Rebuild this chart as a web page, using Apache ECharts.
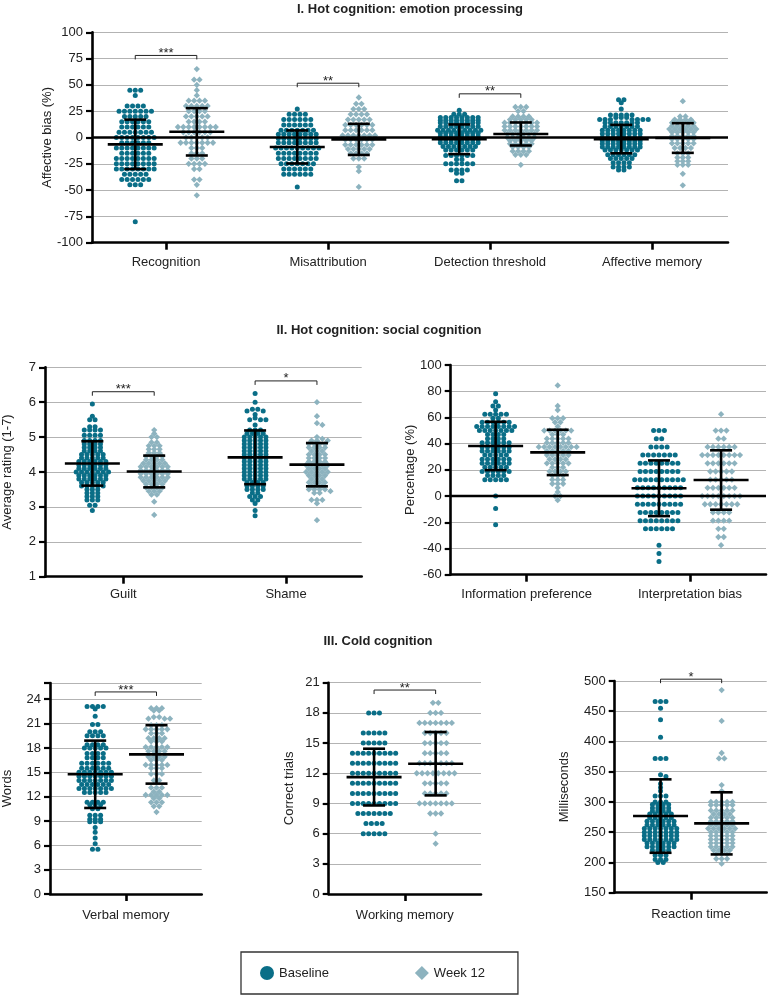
<!DOCTYPE html>
<html><head><meta charset="utf-8">
<script src="https://cdn.jsdelivr.net/npm/echarts@6/dist/echarts.min.js"></script>
<style>html,body{margin:0;padding:0;background:#fff}#c{width:768px;height:995px}</style>
</head><body><div id="c"></div>
<script>
// ---------- categories ----------
const emotionTasks = ['Recognition','Misattribution','Detection threshold','Affective memory'];
const ratingTasks = ['Guilt','Shame'];
const percentTasks = ['Information preference','Interpretation bias'];
const verbalTask = ['Verbal memory'];
const workingTask = ['Working memory'];
const reactionTask = ['Reaction time'];

// ---------- individual values ----------
const recognitionBaseline = [45,45,45,40,30,30,30,30,25,25,25,25,25,25,25,20,20,20,20,20,15,15,15,15,15,15,10,10,10,10,10,10,5,5,5,5,5,5,5,0,0,0,0,0,0,0,0,-5,-5,-5,-5,-5,-5,-10,-10,-10,-10,-10,-10,-10,-10,-15,-15,-15,-15,-15,-15,-20,-20,-20,-20,-20,-20,-20,-20,-25,-25,-25,-25,-25,-25,-25,-25,-30,-30,-30,-30,-30,-30,-30,-30,-35,-35,-35,-35,-35,-40,-40,-40,-40,-40,-40,-45,-45,-45,-80];
const recognitionWeek12 = [65,55,55,50,45,40,35,35,35,35,30,30,30,30,30,25,25,25,25,20,20,20,20,20,15,15,15,15,10,10,10,10,10,10,10,10,5,5,5,5,5,5,0,0,0,0,0,-5,-5,-5,-5,-5,-5,-5,-10,-10,-10,-15,-15,-15,-20,-20,-20,-25,-25,-25,-25,-30,-30,-40,-40,-45,-55];
const misattributionBaseline = [27,22,22,22,22,17,17,17,17,17,17,12,12,12,12,12,12,7,7,7,7,7,7,7,3,3,3,3,3,3,3,3,-1,-1,-1,-1,-1,-1,-1,-1,-5,-5,-5,-5,-5,-5,-5,-5,-10,-10,-10,-10,-10,-10,-10,-10,-10,-15,-15,-15,-15,-15,-15,-15,-15,-20,-20,-20,-20,-20,-20,-20,-20,-25,-25,-25,-25,-25,-25,-25,-30,-30,-30,-30,-30,-30,-35,-35,-35,-35,-35,-35,-47];
const misattributionWeek12 = [38,32,32,27,27,27,22,22,22,22,17,17,17,17,17,12,12,12,12,12,12,7,7,7,7,7,7,2,2,2,2,2,2,2,-2,-2,-2,-2,-2,-2,-7,-7,-7,-7,-7,-7,-11,-11,-11,-11,-11,-15,-15,-15,-15,-20,-20,-20,-28,-32,-47];
const detectionBaseline = [26,22,22,22,19,19,19,19,19,19,19,19,16.5,16.5,16.5,16.5,16.5,16.5,16.5,16.5,14,14,14,14,14,14,14,14,10.5,10.5,10.5,10.5,10.5,10.5,10.5,10.5,7,7,7,7,7,7,7,7,7,4,4,4,4,4,4,4,4,1,1,1,1,1,1,1,1,-2,-2,-2,-2,-2,-2,-2,-2,-5,-5,-5,-5,-5,-5,-5,-5,-8.5,-8.5,-8.5,-8.5,-8.5,-8.5,-8.5,-12,-12,-12,-12,-12,-12,-17,-17,-17,-17,-17,-17,-21,-21,-25,-25,-25,-25,-25,-25,-31,-31,-31,-31,-34,-34,-41,-41];
const detectionWeek12 = [29,29,29,25,25,20,20,20,20,17,17,17,17,17,14,14,14,14,14,14,14,10.5,10.5,10.5,10.5,10.5,10.5,10.5,7,7,7,7,7,7,7,3.5,3.5,3.5,3.5,3.5,3.5,0,0,0,0,0,0,-3,-3,-3,-3,-3,-6,-6,-6,-6,-6,-9,-9,-9,-9,-13,-13,-13,-13,-16.5,-16.5,-16.5,-26];
const affectiveMemoryBaseline = [36,36,33,27,21.5,21.5,21.5,21.5,21.5,19,19,19,17,17,17,17,17,17,17,14,14,14,14,14,14,14,10.5,10.5,10.5,10.5,10.5,10.5,10.5,7,7,7,7,7,7,7,7,3.5,3.5,3.5,3.5,3.5,3.5,3.5,3.5,0,0,0,0,0,0,0,0,-3,-3,-3,-3,-3,-3,-3,-3,-6,-6,-6,-6,-6,-6,-6,-6,-9,-9,-9,-9,-9,-9,-9,-9,-12,-12,-12,-12,-12,-12,-12,-16.5,-16.5,-16.5,-16.5,-16.5,-16.5,-20,-20,-20,-20,-20,-24,-24,-24,-24,-28,-28,-28,-28,-31,-31];
const affectiveMemoryWeek12 = [34.5,20,20,17,17,17,17,14,14,14,14,14,11,11,11,11,11,8,8,8,8,8,8,5,5,5,5,5,1.5,1.5,1.5,1.5,1.5,-1.5,-1.5,-1.5,-1.5,-1.5,-5.5,-5.5,-5.5,-5.5,-5.5,-10,-10,-10,-10,-15,-15,-15,-19,-19,-19,-22.5,-22.5,-22.5,-26,-26,-26,-34.5,-45.5];

const guiltBaseline = [5.95,5.6,5.5,5.5,5.3,5.3,5.2,5.2,5.2,5.2,5.05,5.05,5.05,5.05,4.9,4.9,4.9,4.9,4.8,4.8,4.8,4.8,4.7,4.7,4.7,4.7,4.6,4.6,4.6,4.6,4.5,4.5,4.5,4.5,4.5,4.4,4.4,4.4,4.4,4.4,4.3,4.3,4.3,4.3,4.3,4.3,4.2,4.2,4.2,4.2,4.2,4.2,4.1,4.1,4.1,4.1,4.1,4.1,4.0,4.0,4.0,4.0,4.0,4.0,4.0,3.9,3.9,3.9,3.9,3.9,3.9,3.8,3.8,3.8,3.8,3.8,3.8,3.7,3.7,3.7,3.7,3.7,3.6,3.6,3.6,3.6,3.6,3.5,3.5,3.5,3.4,3.4,3.4,3.3,3.3,3.3,3.2,3.2,3.2,3.05,3.05,2.9];
const guiltWeek12 = [5.2,5.1,5.0,5.0,4.85,4.85,4.75,4.75,4.75,4.65,4.65,4.65,4.55,4.55,4.55,4.45,4.45,4.45,4.45,4.35,4.35,4.35,4.35,4.25,4.25,4.25,4.25,4.25,4.15,4.15,4.15,4.15,4.15,4.15,4.05,4.05,4.05,4.05,4.05,4.05,3.95,3.95,3.95,3.95,3.95,3.95,3.85,3.85,3.85,3.85,3.85,3.85,3.75,3.75,3.75,3.75,3.75,3.65,3.65,3.65,3.65,3.55,3.55,3.55,3.55,3.45,3.45,3.45,3.35,3.35,3.15,2.77];
const shameBaseline = [6.25,6.0,5.8,5.8,5.75,5.75,5.65,5.55,5.5,5.5,5.5,5.35,5.2,5.2,5.2,5.1,5.1,5.1,5.1,5.0,5.0,5.0,5.0,5.0,4.9,4.9,4.9,4.9,4.9,4.8,4.8,4.8,4.8,4.8,4.7,4.7,4.7,4.7,4.7,4.6,4.6,4.6,4.6,4.6,4.5,4.5,4.5,4.5,4.5,4.4,4.4,4.4,4.4,4.4,4.3,4.3,4.3,4.3,4.3,4.2,4.2,4.2,4.2,4.2,4.1,4.1,4.1,4.1,4.1,4.0,4.0,4.0,4.0,4.0,3.9,3.9,3.9,3.9,3.9,3.8,3.8,3.8,3.8,3.8,3.7,3.7,3.7,3.7,3.6,3.6,3.6,3.6,3.5,3.5,3.5,3.5,3.4,3.4,3.3,3.3,3.3,3.2,3.2,3.1,2.9,2.75];
const shameWeek12 = [6.0,5.6,5.4,5.35,5.0,4.95,4.9,4.9,4.9,4.8,4.8,4.8,4.8,4.7,4.7,4.7,4.7,4.6,4.6,4.6,4.5,4.5,4.5,4.5,4.4,4.4,4.4,4.4,4.3,4.3,4.3,4.3,4.2,4.2,4.2,4.2,4.2,4.1,4.1,4.1,4.1,4.0,4.0,4.0,4.0,4.0,3.9,3.9,3.9,3.9,3.8,3.8,3.8,3.7,3.7,3.7,3.7,3.6,3.6,3.6,3.5,3.5,3.5,3.5,3.45,3.4,3.4,3.2,3.2,3.2,3.1,2.62];

const infoPreferenceBaseline = [78.1,71.9,68.8,68.8,65.6,62.5,62.5,62.5,62.5,62.5,59.4,59.4,56.3,56.3,56.3,56.3,56.3,56.3,53.1,53.1,53.1,53.1,53.1,53.1,53.1,53.1,50,50,50,50,50,50,50,46.9,46.9,46.9,46.9,43.8,43.8,43.8,43.8,40.6,40.6,40.6,40.6,40.6,40.6,37.5,37.5,37.5,37.5,37.5,37.5,34.4,34.4,34.4,34.4,34.4,34.4,31.3,31.3,31.3,31.3,31.3,28.1,28.1,28.1,28.1,28.1,28.1,25,25,25,25,25,25,21.9,21.9,21.9,21.9,21.9,18.8,18.8,18.8,18.8,18.8,18.8,15.6,15.6,15.6,15.6,12.5,12.5,12.5,12.5,12.5,0,-9.4,-21.9];
const infoPreferenceWeek12 = [84.4,68.8,65.6,59.4,59.4,59.4,56.3,56.3,53.1,50,50,50,50,50,50,46.9,46.9,46.9,43.8,43.8,43.8,43.8,43.8,40.6,40.6,40.6,40.6,40.6,37.5,37.5,37.5,37.5,37.5,37.5,37.5,37.5,34.4,34.4,34.4,34.4,34.4,31.3,31.3,31.3,31.3,31.3,28.1,28.1,28.1,28.1,25,25,25,25,25,21.9,21.9,21.9,18.8,18.8,18.8,18.8,15.6,15.6,15.6,12.5,12.5,12.5,9.4,9.4,9.4,6.3,3.1,0,0,-3.1];
const interpretationBaseline = [50,50,50,43.75,43.75,37.5,37.5,37.5,37.5,31.25,31.25,31.25,31.25,31.25,31.25,31.25,25,25,25,25,25,25,25,25,18.75,18.75,18.75,18.75,18.75,18.75,18.75,18.75,12.5,12.5,12.5,12.5,12.5,12.5,12.5,12.5,12.5,12.5,6.25,6.25,6.25,6.25,6.25,6.25,6.25,6.25,6.25,0,0,0,0,0,0,0,0,0,-6.25,-6.25,-6.25,-6.25,-6.25,-6.25,-6.25,-6.25,-6.25,-12.5,-12.5,-12.5,-12.5,-12.5,-12.5,-12.5,-12.5,-18.75,-18.75,-18.75,-18.75,-18.75,-18.75,-18.75,-18.75,-25,-25,-25,-25,-25,-25,-37.5,-43.75,-50];
const interpretationWeek12 = [62.5,50,50,50,43.75,43.75,37.5,37.5,37.5,37.5,37.5,37.5,31.25,31.25,31.25,31.25,31.25,31.25,31.25,31.25,25,25,25,25,25,25,18.75,18.75,18.75,18.75,18.75,12.5,12.5,12.5,12.5,12.5,6.25,6.25,6.25,6.25,6.25,6.25,0,0,0,0,0,0,0,0,-6.25,-6.25,-6.25,-6.25,-6.25,-6.25,-6.25,-12.5,-12.5,-12.5,-12.5,-18.75,-18.75,-18.75,-18.75,-25,-25,-31.25,-31.25,-37.5];

const verbalBaseline = [23.1,23.1,23.1,23.1,22.8,21.9,20.9,20.9,20,20,20,19.5,19.5,19.5,19.5,18.4,18.4,18.4,18.4,18,18,18,18,18,17.3,17.3,17.3,17.3,16.8,16.8,16.8,16.8,16.1,16.1,16.1,16.1,16.1,16.1,15.5,15.5,15.5,15.5,15.5,15.5,15,15,15,15,15,15,15,14.5,14.5,14.5,14.5,14.5,14.5,14.5,14,14,14,14,14,14,14,13.5,13.5,13.5,13.5,13.5,13.5,13,13,13,13,13,13,13,12.5,12.5,12.5,12.5,12.5,11.3,11.3,11.3,11.3,11,11,11,10.5,10.5,9.7,9.7,9.7,9.2,9.2,9.2,8.9,8.9,8.9,8.2,7.6,6.9,6.2,5.5,5.5];
const verbalWeek12 = [22.9,22.9,22.9,22.6,22.6,21.8,21.8,21.6,21.6,21.6,20.8,20.8,20.8,20.3,20.3,20.3,20.3,20.3,19.8,19.8,19.8,19.2,19.2,19.2,19.2,18.8,18.8,18.8,18.1,18.1,18.1,18.1,18.1,17.6,17.6,17.6,17.6,16.9,16.9,16.9,16.9,16.5,16.5,16.5,15.9,15.9,15.9,15.9,15.9,15.5,15.5,15.5,14.8,14.8,14.8,14,14,13.1,13.1,13.1,12.6,12.6,12.2,12.2,12.2,12.2,12.2,11.8,11.8,11.3,11.3,11.3,10.8,10.8,10.1];
const workingBaseline = [18,18,18,16,16,16,16,16,15,15,15,15,15,14,14,14,14,14,14,14,14,14,13,13,13,13,13,13,13,13,13,12,12,12,12,12,12,12,12,12,11,11,11,11,11,11,11,11,11,10,10,10,10,10,10,10,10,10,9,9,9,9,9,9,9,9,9,8,8,8,8,8,8,8,7,7,7,7,6,6,6,6,6];
const workingWeek12 = [19,19,18,18,18,17,17,17,17,17,17,17,16,16,16,16,16,15,15,15,15,15,14,14,14,14,14,13,13,13,13,13,13,13,12,12,12,12,12,12,12,12,11,11,11,11,11,10,10,10,10,10,9,9,9,9,9,9,9,8,8,8,6,5];
const reactionBaseline = [466,466,466,455,436,407,372,372,372,345,342,330,324,318,310,310,310,300,300,300,296,296,296,296,290,290,290,290,285,285,285,285,280,280,280,280,280,274,274,274,274,274,268,268,268,268,268,268,262,262,262,262,262,262,256,256,256,256,256,256,256,250,250,250,250,250,250,250,244,244,244,244,244,244,244,238,238,238,238,238,238,238,232,232,232,232,232,232,226,226,226,226,226,226,220,220,220,220,212,212,212,205,205,205,200,200];
const reactionWeek12 = [485,434,381,372,372,328,318,300,300,300,300,300,295,295,295,295,295,286,286,286,286,286,280,280,280,280,274,274,274,274,274,268,268,268,268,268,262,262,262,262,262,256,256,256,256,256,256,250,250,250,250,250,244,244,244,244,244,238,238,238,238,238,232,232,232,232,232,226,226,226,226,226,220,220,220,220,214,214,214,206,206,206,198];

// ---------- group means and SDs ----------
const emotionBaselineMean = [-6.5, -9.0, -1.7, -1.5];
const emotionBaselineSD   = [23.5, 15.7, 14.1, 13.5];
const emotionWeek12Mean   = [5.4, -1.8, 3.35, -0.5];
const emotionWeek12SD     = [22.5, 14.8, 10.95, 14.1];
const ratingBaselineMean = [4.245, 4.42];
const ratingBaselineSD   = [0.635, 0.77];
const ratingWeek12Mean   = [4.015, 4.21];
const ratingWeek12SD     = [0.455, 0.62];
const percentBaselineMean = [38.25, 5.95];
const percentBaselineSD   = [18.45, 21.25];
const percentWeek12Mean   = [33.3, 12.25];
const percentWeek12SD     = [17.3, 22.65];
const verbalMean = [14.75, 17.2], verbalSD = [4.15, 3.6];
const workingMean = [11.62, 12.95], workingSD = [2.82, 3.15];
const reactionMean = [276.7, 264.65], reactionSD = [60.7, 51.35];

// ---------- significance ----------
const emotionSigLabels = ['***','**','**',''];
const emotionSigY = [78, 51.6, 41.5, null];
const ratingSigLabels = ['***','*'];
const ratingSigY = [6.3, 6.61];
const percentSigLabels = ['',''];
const percentSigY = [null, null];
const verbalSig = ['***', 24.9];
const workingSig = ['**', 20.27];
const reactionSig = ['*', 503];

// ---------- styling / layout ----------
const FONT = '"Liberation Sans", Arial, Helvetica, sans-serif';
const C_BASE = '#0a6e87';
const C_WEEK = '#8db3bf';
const OFF = 0.19;
const D = 5.4;    // horizontal spacing of points in a row (px)
const DY = 2.4;   // vertical distance below which two points share a row (px)

const panels = [
  {grid:{left:92, top:32.3, width:636, height:210.4}, y:[-100,100,25], x:[0.543,4.469], cats:emotionTasks,
   yName:'Affective bias (%)', nameGap:38, labelMargin:13, zero:true,
   base:[recognitionBaseline, misattributionBaseline, detectionBaseline, affectiveMemoryBaseline],
   week:[recognitionWeek12, misattributionWeek12, detectionWeek12, affectiveMemoryWeek12],
   bm:emotionBaselineMean, bs:emotionBaselineSD, wm:emotionWeek12Mean, ws:emotionWeek12SD,
   sigL:emotionSigLabels, sigY:emotionSigY},
  {grid:{left:45, top:367.3, width:316.7, height:209.4}, y:[1,7,1], x:[0.519,2.465], cats:ratingTasks,
   yName:'Average rating (1-7)', nameGap:31, labelMargin:11, zero:false,
   base:[guiltBaseline, shameBaseline], week:[guiltWeek12, shameWeek12],
   bm:ratingBaselineMean, bs:ratingBaselineSD, wm:ratingWeek12Mean, ws:ratingWeek12SD,
   sigL:ratingSigLabels, sigY:ratingSigY},
  {grid:{left:450.7, top:365, width:315.3, height:209.7}, y:[-60,100,20], x:[0.535,2.465], cats:percentTasks,
   yName:'Percentage (%)', nameGap:34, labelMargin:13, zero:true,
   base:[infoPreferenceBaseline, interpretationBaseline], week:[infoPreferenceWeek12, interpretationWeek12],
   bm:percentBaselineMean, bs:percentBaselineSD, wm:percentWeek12Mean, ws:percentWeek12SD,
   sigL:percentSigLabels, sigY:percentSigY},
  {grid:{left:50, top:683, width:151.7, height:211}, y:[0,26,3], x:[0.53,1.47], cats:verbalTask,
   yName:'Words', nameGap:36, labelMargin:15, zero:false, hideAbove:24,
   base:[verbalBaseline], week:[verbalWeek12],
   bm:[verbalMean[0]], bs:[verbalSD[0]], wm:[verbalMean[1]], ws:[verbalSD[1]],
   sigL:[verbalSig[0]], sigY:[verbalSig[1]]},
  {grid:{left:328.7, top:682.7, width:152.3, height:211.3}, y:[0,21,3], x:[0.53,1.47], cats:workingTask,
   yName:'Correct trials', nameGap:33, labelMargin:15, zero:false,
   base:[workingBaseline], week:[workingWeek12],
   bm:[workingMean[0]], bs:[workingSD[0]], wm:[workingMean[1]], ws:[workingSD[1]],
   sigL:[workingSig[0]], sigY:[workingSig[1]]},
  {grid:{left:614.7, top:681, width:152, height:211.7}, y:[150,500,50], x:[0.525,1.47], cats:reactionTask,
   yName:'Milliseconds', nameGap:44, labelMargin:15, zero:false,
   base:[reactionBaseline], week:[reactionWeek12],
   bm:[reactionMean[0]], bs:[reactionSD[0]], wm:[reactionMean[1]], ws:[reactionSD[1]],
   sigL:[reactionSig[0]], sigY:[reactionSig[1]]}
];

const chart = echarts.init(document.getElementById('c'), null, {renderer:'canvas'});

// row-based beeswarm: equal values form a centred row; nearby rows only interact when closer than DY
function swarm(vals, ys){
  const order = vals.map((_, i) => i).sort((a, b) => vals[b] - vals[a]);
  const placed = [], out = new Array(vals.length);
  let k = 0;
  while (k < order.length) {
    let e = k;
    while (e < order.length && vals[order[e]] === vals[order[k]]) e++;
    const n = e - k;
    const base = n % 2 === 0 ? D / 2 : 0;
    for (let j = k; j < e; j++) {
      const i = order[j], y = ys[i];
      const near = placed.filter(p => Math.abs(p.y - y) < DY);
      const cands = [];
      for (let m = 0; m < 40; m++) { const v = base + m * D; cands.push(v); if (v !== 0) cands.push(-v); }
      near.forEach(p => { cands.push(p.x + D, p.x - D); });
      const sgn = (j - k) % 2 ? 1 : -1;
      cands.sort((a, b) => (Math.round(Math.abs(a)*100) - Math.round(Math.abs(b)*100)) || (sgn * (a - b)));
      let best = 0;
      for (const c of cands) {
        if (near.every(p => Math.abs(p.x - c) >= D - 0.01)) { best = c; break; }
      }
      placed.push({x: best, y}); out[i] = best;
    }
    k = e;
  }
  return out;
}

const grids = [], xAxes = [], yAxes = [], series = [];
panels.forEach((P, p) => {
  grids.push(Object.assign({containLabel:false}, P.grid));
  const catVals = P.cats.map((_, i) => i + 1);
  xAxes.push({type:'value', gridIndex:p, min:P.x[0], max:P.x[1],
    axisLine:{show:true, onZero:false, lineStyle:{color:'#000', width:2.6}},
    axisTick:{show:true, customValues:catVals, length:7, lineStyle:{color:'#000', width:2.6}},
    axisLabel:{show:true, customValues:catVals, formatter:v => P.cats[Math.round(v)-1] || '',
      fontSize:13, color:'#222', margin:P.labelMargin, fontFamily:FONT},
    splitLine:{show:false}});
  yAxes.push({type:'value', gridIndex:p, min:P.y[0], max:P.y[1], interval:P.y[2],
    axisLine:{show:true, onZero:false, lineStyle:{color:'#000', width:2.6}},
    axisTick:{show:true, length:6, lineStyle:{color:'#000', width:2.2}},
    axisLabel:{fontSize:13, color:'#222', margin:9, fontFamily:FONT,
      formatter:v => (P.hideAbove !== undefined && v > P.hideAbove) ? '' : String(v)},
    splitLine:{show:true, lineStyle:{color:'#b3b3b3', width:1.2}},
    name:P.yName, nameLocation:'middle', nameGap:P.nameGap, nameMoveOverlap:false,
    nameTextStyle:{fontSize:13, color:'#222', fontFamily:FONT}});

  P.cats.forEach((c, i) => {
    [0, 1].forEach(g => {
      series.push({id:`s_${p}_${i}_${g}`, name: g ? 'Week 12' : 'Baseline', type:'scatter',
        xAxisIndex:p, yAxisIndex:p, symbol: g ? 'diamond' : 'circle', symbolSize: g ? 6.3 : 5.0,
        itemStyle:{color: g ? C_WEEK : C_BASE, opacity:1}, data:[], z:2, silent:true});
    });
  });

  if (P.zero) {
    series.push({type:'custom', xAxisIndex:p, yAxisIndex:p, z:4, silent:true,
      data:[[P.x[0], 0]], encode:{x:0, y:1},
      renderItem:(params, api) => {
        const cs = params.coordSys;
        const y0 = api.coord([api.value(0), 0])[1];
        return {type:'line', shape:{x1:cs.x, y1:y0, x2:cs.x + cs.width, y2:y0},
          style:{stroke:'#000', lineWidth:2.6}};
      }});
  }

  const ebData = [];
  P.cats.forEach((c, i) => {
    ebData.push([i + 1 - OFF, P.bm[i], P.bs[i]]);
    ebData.push([i + 1 + OFF, P.wm[i], P.ws[i]]);
  });
  series.push({type:'custom', xAxisIndex:p, yAxisIndex:p, z:5, silent:true, data:ebData, encode:{x:0, y:1},
    renderItem:(params, api) => {
      const x = api.value(0), m = api.value(1), s = api.value(2);
      const c = api.coord([x, m]), t = api.coord([x, m + s]), b = api.coord([x, m - s]);
      const st = {stroke:'#000', lineWidth:2.6};
      return {type:'group', children:[
        {type:'line', shape:{x1:c[0]-27.5, y1:c[1], x2:c[0]+27.5, y2:c[1]}, style:st},
        {type:'line', shape:{x1:c[0], y1:t[1], x2:c[0], y2:b[1]}, style:st},
        {type:'line', shape:{x1:c[0]-11, y1:t[1], x2:c[0]+11, y2:t[1]}, style:st},
        {type:'line', shape:{x1:c[0]-11, y1:b[1], x2:c[0]+11, y2:b[1]}, style:st}
      ]};
    }});

  const sigData = [], sigText = [];
  P.cats.forEach((c, i) => {
    if (P.sigY[i] !== null && P.sigY[i] !== undefined) {
      sigData.push([i + 1 - OFF, i + 1 + OFF, P.sigY[i]]);
      sigText.push(P.sigL[i]);
    }
  });
  if (sigData.length) {
    series.push({type:'custom', xAxisIndex:p, yAxisIndex:p, z:5, silent:true, clip:false,
      data:sigData, encode:{x:[0,1], y:2},
      renderItem:(params, api) => {
        const a = api.coord([api.value(0), api.value(2)]);
        const b = api.coord([api.value(1), api.value(2)]);
        return {type:'group', children:[
          {type:'polyline', shape:{points:[[a[0], a[1]+4], [a[0], a[1]], [b[0], b[1]], [b[0], b[1]+4]]},
            style:{stroke:'#222', lineWidth:1, fill:null}},
          {type:'text', x:(a[0]+b[0])/2, y:a[1]-2,
            style:{text:sigText[params.dataIndex], textAlign:'center', textVerticalAlign:'middle',
              font:'13px ' + FONT, fill:'#222'}}
        ]};
      }});
  }
});

const option = {
  animation:false,
  backgroundColor:'#fff',
  textStyle:{fontFamily:FONT},
  grid:grids, xAxis:xAxes, yAxis:yAxes, series:series,
  legend:{data:[{name:'Baseline', icon:'circle'}, {name:'Week 12', icon:'diamond'}],
    left:241, top:952, orient:'horizontal', itemWidth:14, itemHeight:14, itemGap:86,
    padding:[14,33,14,19], borderColor:'#333', borderWidth:1.3, selectedMode:false,
    textStyle:{fontSize:13, color:'#222', fontFamily:FONT}},
  graphic:[
    {type:'text', x:410, y:9, style:{text:'I. Hot cognition: emotion processing', textAlign:'center', textVerticalAlign:'middle', font:'bold 13px ' + FONT, fill:'#222'}},
    {type:'text', x:379, y:330, style:{text:'II. Hot cognition: social cognition', textAlign:'center', textVerticalAlign:'middle', font:'bold 13px ' + FONT, fill:'#222'}},
    {type:'text', x:378, y:641, style:{text:'III. Cold cognition', textAlign:'center', textVerticalAlign:'middle', font:'bold 13px ' + FONT, fill:'#222'}}
  ]
};
chart.setOption(option);

// beeswarm layout computed in pixel space via the library's own axis scales
const updates = [];
panels.forEach((P, p) => {
  const finder = {xAxisIndex:p, yAxisIndex:p};
  P.cats.forEach((c, i) => {
    [0, 1].forEach(g => {
      const xc = i + 1 + (g ? OFF : -OFF);
      const vals = g ? P.week[i] : P.base[i];
      const p0 = chart.convertToPixel(finder, [xc, P.y[0]]);
      const p1 = chart.convertToPixel(finder, [xc + 1, P.y[0]]);
      const pxPerUnit = p1[0] - p0[0];
      const ys = vals.map(v => chart.convertToPixel(finder, [xc, v])[1]);
      const offs = swarm(vals, ys);
      updates.push({id:`s_${p}_${i}_${g}`, data: vals.map((v, k) => [xc + offs[k] / pxPerUnit, v])});
    });
  });
});
chart.setOption({series:updates});
</script></body></html>
